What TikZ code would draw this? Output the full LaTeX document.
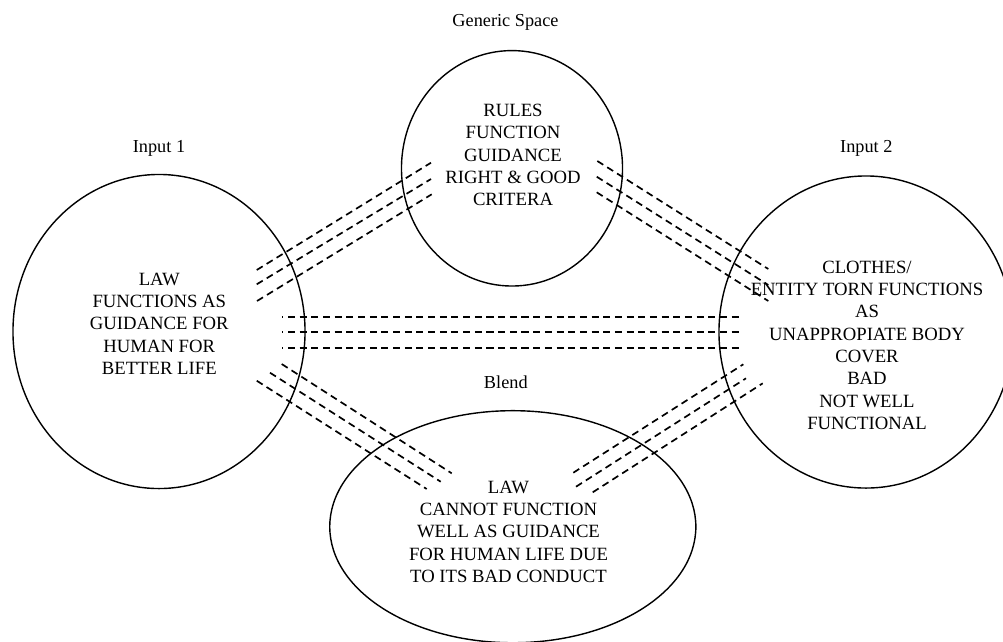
\documentclass[tikz,border=0pt]{standalone}
\usepackage{fontspec}
\setmainfont{Liberation Serif}
\usepackage{tikz}
\usetikzlibrary{shapes.geometric}
\usetikzlibrary{calc}

\begin{document}
\begin{tikzpicture}[x=0.025cm, y=-0.025cm,
    space/.style={draw, ellipse, line width=1pt, inner sep=0pt},
    spacetext/.style={align=center, font=\fontsize{13.3}{15.9}\selectfont},
    spacename/.style={font=\fontsize{13}{15}\selectfont},
    link/.style={dash pattern=on 5pt off 3.3pt, line width=1.2pt}]

    \useasboundingbox (0,0) rectangle (1003,641);

    % the four spaces
    \node[space, minimum width=5.525cm, minimum height=5.885cm] (gen) at (512,168.3) {};
    \node[space, minimum width=7.3cm, minimum height=7.85cm] (inone) at (159,331.5) {};
    \node[space, minimum width=7.35cm, minimum height=7.8cm] (intwo) at (866,332) {};
    \node[space, minimum width=9.15cm, minimum height=5.8cm] (blend) at (512.8,526.7) {};

    \node[spacename] (genname) at (505.5,22.7) {Generic Space};
    \node[spacename] (inonename) at (159,148.3) {Input 1};
    \node[spacename] (intwoname) at (866.3,148.3) {Input 2};
    \node[spacename] (blendname) at (505.8,382.7) {Blend};

    \node[spacetext] (gentext) at (513,155) {RULES\\FUNCTION\\GUIDANCE\\RIGHT \& GOOD\\CRITERA};
    \node[spacetext] (inonetext) at (159.3,323.6) {LAW\\FUNCTIONS AS\\GUIDANCE FOR\\HUMAN FOR\\BETTER LIFE};
    \node[spacetext] (intwotext) at (867,345.3) {CLOTHES/\\ENTITY TORN FUNCTIONS\\AS\\UNAPPROPIATE BODY\\COVER\\BAD\\NOT WELL\\FUNCTIONAL};
    \node[spacetext] (blendtext) at (508.5,531.7) {LAW\\CANNOT FUNCTION\\WELL AS GUIDANCE\\FOR HUMAN LIFE DUE\\TO ITS BAD CONDUCT};

    % input 1 -- generic
    \foreach \i/\xa/\ya/\xb/\yb in {1/256.7/270/431/162.7, 2/256.7/284.3/431/179, 3/257/301/431.7/194.3} {
        \coordinate (ga\i) at (\xa,\ya);
        \coordinate (gb\i) at (\xb,\yb);
        \draw[link] (ga\i) -- (gb\i);
    }

    % generic -- input 2
    \foreach \i/\xa/\ya/\xb/\yb in {1/597.3/161/768.3/269, 2/596.7/176.7/768.3/285, 3/596.7/192.3/768.3/301} {
        \coordinate (ha\i) at (\xa,\ya);
        \coordinate (hb\i) at (\xb,\yb);
        \draw[link] (ha\i) -- (hb\i);
    }

    % input 1 -- input 2
    \foreach \i/\y in {1/316.7, 2/332, 3/348} {
        \coordinate (ka\i) at (282,\y);
        \coordinate (kb\i) at (743,\y);
        \draw[link, dash phase=4pt] (ka\i) -- (kb\i);
    }

    % input 1 -- blend
    \foreach \i/\xa/\ya/\xb/\yb in {1/281.7/364/451.7/473.3, 2/270/372.7/440.7/481.7, 3/256.7/380.7/426.7/489} {
        \coordinate (ba\i) at (\xa,\ya);
        \coordinate (bb\i) at (\xb,\yb);
        \draw[link] (ba\i) -- (bb\i);
    }

    % blend -- input 2
    \foreach \i/\xa/\ya/\xb/\yb in {1/573.3/472.7/743.3/364.3, 2/576/486.7/746/378.3, 3/592.7/492.3/762.7/383.3} {
        \coordinate (ca\i) at (\xa,\ya);
        \coordinate (cb\i) at (\xb,\yb);
        \draw[link] (ca\i) -- (cb\i);
    }

\end{tikzpicture}
\end{document}
